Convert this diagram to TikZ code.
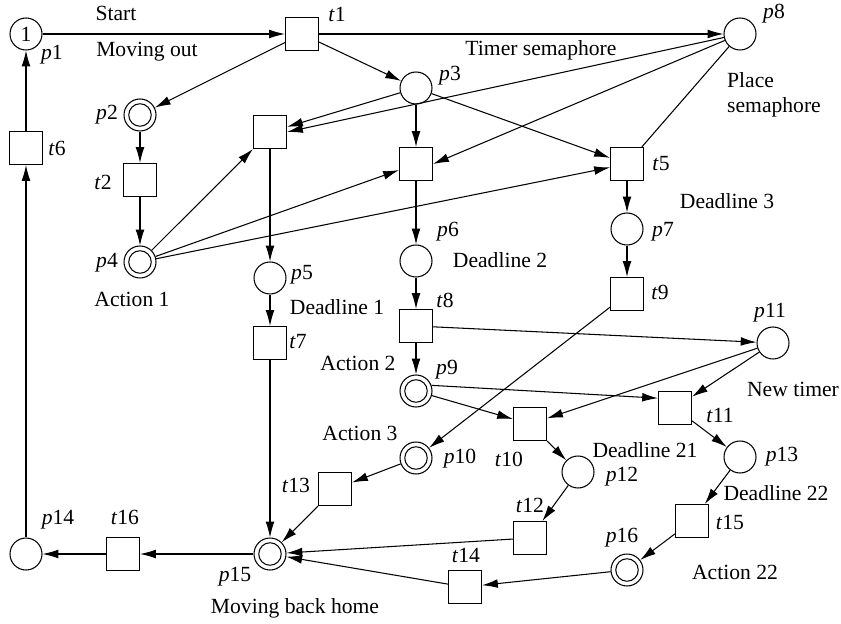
\documentclass[tikz,border=0pt]{standalone}
\usepackage{fontspec}
\setmainfont{Liberation Serif}
\usetikzlibrary{arrows.meta}
\begin{document}
\begin{tikzpicture}[x=0.02cm,y=-0.02cm,line width=0.6pt,
  place/.style={draw,circle,minimum size=0.64cm,inner sep=0pt,font=\fontsize{12.3}{14}\selectfont},
  dplace/.style={place,path picture={\draw (path picture bounding box.center) circle (0.225cm);}},
  trans/.style={draw,minimum size=0.66cm,inner sep=0pt},
  lbl/.style={font=\fontsize{12.3}{14}\selectfont,inner sep=0pt},
  arc/.style={-{Latex[length=9pt,width=5pt]}}]
 \useasboundingbox (0,0) rectangle (841,624);
 % places
 \node[place] (p1) at (26,34) {1};
 \node[dplace] (p2) at (140,115) {};
 \node[place] (p3) at (416,88) {};
 \node[dplace] (p4) at (140,262) {};
 \node[place] (p5) at (270,278) {};
 \node[place] (p6) at (416,261) {};
 \node[place] (p7) at (627,229) {};
 \node[place] (p8) at (740,34) {};
 \node[dplace] (p9) at (416,391) {};
 \node[dplace] (p10) at (416,458) {};
 \node[place] (p11) at (773,343) {};
 \node[place] (p12) at (578,472) {};
 \node[place] (p13) at (740,457) {};
 \node[place] (p14) at (26,554) {};
 \node[dplace] (p15) at (270,554) {};
 \node[dplace] (p16) at (627,570) {};
 % transitions
 \node[trans] (t1) at (302,34) {};
 \node[trans] (t2) at (140,180) {};
 \node[trans] (ta) at (270,132) {};
 \node[trans] (tb) at (416,164) {};
 \node[trans] (t5) at (627,164) {};
 \node[trans] (t6) at (26,148) {};
 \node[trans] (t7) at (270,343) {};
 \node[trans] (t8) at (416,326) {};
 \node[trans] (t9) at (627,294) {};
 \node[trans] (t10) at (530,424) {};
 \node[trans] (t11) at (675,408) {};
 \node[trans] (t12) at (530,538) {};
 \node[trans] (t13) at (335,489) {};
 \node[trans] (t14) at (465,587) {};
 \node[trans] (t15) at (692,521) {};
 \node[trans] (t16) at (123,554) {};
 % arcs
 \draw[arc] (p1) -- (t1);
 \draw[arc] (t1) -- (p8);
 \draw[arc] (t1) -- (p2);
 \draw[arc] (t1) -- (p3);
 \draw[arc] (p2) -- (t2);
 \draw[arc] (t2) -- (p4);
 \draw[arc] (p3) -- (ta);
 \draw[arc] (p3) -- (tb);
 \draw[arc] (p3) -- (t5);
 \draw[arc] (p8) -- (ta.east);
 \draw[arc] (p8) -- (tb.east);
 \draw (p8) -- (t5);
 \draw[arc] (p4) -- (ta);
 \draw[arc] (p4) -- (tb);
 \draw[arc] (p4) -- (t5);
 \draw[arc] (ta) -- (p5);
 \draw[arc] (tb) -- (p6);
 \draw[arc] (t5) -- (p7);
 \draw[arc] (p5) -- (t7);
 \draw[arc] (p6) -- (t8);
 \draw[arc] (p7) -- (t9);
 \draw[arc] (t8) -- (p9);
 \draw[arc] (t8) -- (p11);
 \draw[arc] (t9) -- (p10);
 \draw[arc] (p9) -- (t10);
 \draw[arc] (p9.20) -- (t11.150);
 \draw[arc] (p11) -- (t10);
 \draw[arc] (p11) -- (t11);
 \draw[arc] (t10) -- (p12);
 \draw[arc] (t11) -- (p13);
 \draw[arc] (p10) -- (t13);
 \draw[arc] (p12) -- (t12);
 \draw[arc] (p13) -- (t15);
 \draw[arc] (t15) -- (p16);
 \draw[arc] (p16) -- (t14);
 \draw[arc] (t7) -- (p15);
 \draw[arc] (t13) -- (p15);
 \draw[arc] (t12) -- (p15);
 \draw[arc] (t14) -- (p15);
 \draw[arc] (p15) -- (t16);
 \draw[arc] (t16) -- (p14);
 \draw[arc] (p14) -- (t6);
 \draw[arc] (t6) -- (p1);
 % labels
 \node[lbl] (lp1) at (52,55) {\textit{p}1};
 \node[lbl] (lp2) at (107,115) {\textit{p}2};
 \node[lbl] (lp3) at (450,76) {\textit{p}3};
 \node[lbl] (lp4) at (107,263) {\textit{p}4};
 \node[lbl] (lp5) at (302,275) {\textit{p}5};
 \node[lbl] (lp6) at (448,232) {\textit{p}6};
 \node[lbl] (lp7) at (663,232) {\textit{p}7};
 \node[lbl] (lp8) at (774,14) {\textit{p}8};
 \node[lbl] (lp9) at (447,370) {\textit{p}9};
 \node[lbl] (lp10) at (460,459) {\textit{p}10};
 \node[lbl] (lp11) at (770,313) {\textit{p}11};
 \node[lbl] (lp12) at (622,477) {\textit{p}12};
 \node[lbl] (lp13) at (782,457) {\textit{p}13};
 \node[lbl] (lp14) at (58,520) {\textit{p}14};
 \node[lbl] (lp15) at (235,577) {\textit{p}15};
 \node[lbl] (lp16) at (622,538) {\textit{p}16};
 \node[lbl] (lt1) at (337,14) {\textit{t}1};
 \node[lbl] (lt2) at (103,182) {\textit{t}2};
 \node[lbl] (lt5) at (661,164) {\textit{t}5};
 \node[lbl] (lt6) at (57,148) {\textit{t}6};
 \node[lbl] (lt7) at (298,342) {\textit{t}7};
 \node[lbl] (lt8) at (445,300) {\textit{t}8};
 \node[lbl] (lt9) at (660,292) {\textit{t}9};
 \node[lbl] (lt10) at (509,459) {\textit{t}10};
 \node[lbl] (lt11) at (720,415) {\textit{t}11};
 \node[lbl] (lt12) at (530,505) {\textit{t}12};
 \node[lbl] (lt13) at (296,485) {\textit{t}13};
 \node[lbl] (lt14) at (466,555) {\textit{t}14};
 \node[lbl] (lt15) at (730,522) {\textit{t}15};
 \node[lbl] (lt16) at (125,517) {\textit{t}16};
 \node[lbl] (start) at (116,13) {Start};
 \node[lbl] (movout) at (147,52) {Moving out};
 \node[lbl] (timer) at (541,50) {Timer semaphore};
 \node[lbl,align=left] (plsem) at (774,95) {Place\\semaphore};
 \node[lbl] (dl3) at (727,201) {Deadline 3};
 \node[lbl] (act1) at (132,299) {Action 1};
 \node[lbl] (dl1) at (337,307) {Deadline 1};
 \node[lbl] (dl2) at (500,260) {Deadline 2};
 \node[lbl] (act2) at (358,363) {Action 2};
 \node[lbl] (newt) at (793,389) {New timer};
 \node[lbl] (act3) at (360,433) {Action 3};
 \node[lbl] (dl21) at (645,450) {Deadline 21};
 \node[lbl] (dl22) at (776,493) {Deadline 22};
 \node[lbl] (act22) at (735,572) {Action 22};
 \node[lbl] (home) at (295,608) {Moving back home};
\end{tikzpicture}
\end{document}
